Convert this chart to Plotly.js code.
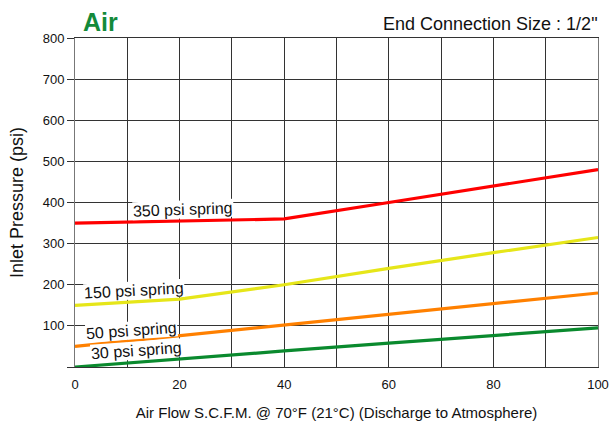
<!DOCTYPE html>
<html>
<head>
<meta charset="utf-8">
<script src="https://cdn.plot.ly/plotly-3.0.1.min.js"></script>
<style>html,body{margin:0;padding:0;background:#fff;}#chart{width:610px;height:421px;}</style>
</head>
<body>
<div id="chart"></div>
<script>
// Data
const flow = [0, 20, 40, 60, 80, 100];
const spring350 = [350, 355, 360, 400, 440, 480];
const spring150 = [150, 165, 200, 240, 278, 315];
const spring50 = [50, 76, 102, 128, 154, 180];
const spring30 = [0, 20, 39, 58, 77, 95];
const seriesNames = ['350 psi spring', '150 psi spring', '50 psi spring', '30 psi spring'];
const seriesColors = ['#ff0000', '#e6e619', '#ff8000', '#0a8a2e'];
const labelX = [20.6, 11.3, 10.8, 11.8];
const labelY = [382, 186, 88, 40];
const labelAngle = [-2, -3, -4, -4];
const xTickVals = [0, 10, 20, 30, 40, 50, 60, 70, 80, 90, 100];
const xTickText = ['0', '', '20', '', '40', '', '60', '', '80', '', '100'];
const yTickVals = [0, 100, 200, 300, 400, 500, 600, 700, 800];
const yTickText = ['', '100', '200', '300', '400', '500', '600', '700', '800'];

const seriesValues = [spring350, spring150, spring50, spring30];
const font = 'Liberation Sans, Arial, Helvetica, sans-serif';

const traces = seriesValues.map((ys, i) => ({
  x: flow, y: ys, type: 'scatter', mode: 'lines', name: seriesNames[i],
  line: {color: seriesColors[i], width: 3.2}, hoverinfo: 'skip'
}));

const annotations = seriesNames.map((n, i) => ({
  x: labelX[i], y: labelY[i], xref: 'x', yref: 'y', text: n, showarrow: false,
  textangle: labelAngle[i], bgcolor: '#ffffff', borderpad: 0,
  font: {family: font, size: 16, color: '#111'}
}));
annotations.push({
  x: 0.012, y: 1.0, xref: 'paper', yref: 'paper', xanchor: 'left', yanchor: 'bottom',
  text: '<b>Air</b>', showarrow: false, font: {family: font, size: 25, color: '#138a3a'}
});
annotations.push({
  x: 1.003, y: 1.005, xref: 'paper', yref: 'paper', xanchor: 'right', yanchor: 'bottom',
  text: 'End Connection Size : 1/2"', showarrow: false, font: {family: font, size: 18, color: '#111'}
});

const layout = {
  width: 610, height: 421,
  margin: {l: 75, r: 12, t: 38, b: 54},
  paper_bgcolor: '#fff', plot_bgcolor: '#fff',
  showlegend: false,
  font: {family: font, color: '#111'},
  xaxis: {
    range: [0, 100], tickvals: xTickVals, ticktext: xTickText,
    showgrid: true, gridcolor: '#333', gridwidth: 1,
    zeroline: false, showline: true, linecolor: '#333', linewidth: 1, mirror: true,
    ticks: '', ticklabelstandoff: 5, tickfont: {size: 13, family: font, color: '#111'},
    title: {text: 'Air Flow S.C.F.M. @ 70°F (21°C) (Discharge to Atmosphere)', font: {size: 15, family: font, color: '#111'}, standoff: 16}
  },
  yaxis: {
    range: [0, 800], tickvals: yTickVals, ticktext: yTickText,
    showgrid: true, gridcolor: '#333', gridwidth: 1,
    zeroline: false, showline: true, linecolor: '#777', linewidth: 1, mirror: true,
    ticks: 'outside', ticklen: 7, tickcolor: '#333',
    tickfont: {size: 13, family: font, color: '#111'},
    title: {text: 'Inlet Pressure (psi)', font: {size: 18, family: font, color: '#111'}, standoff: 14}
  },
  annotations: annotations
};

Plotly.newPlot('chart', traces, layout, {displayModeBar: false, staticPlot: true});
</script>
</body>
</html>
